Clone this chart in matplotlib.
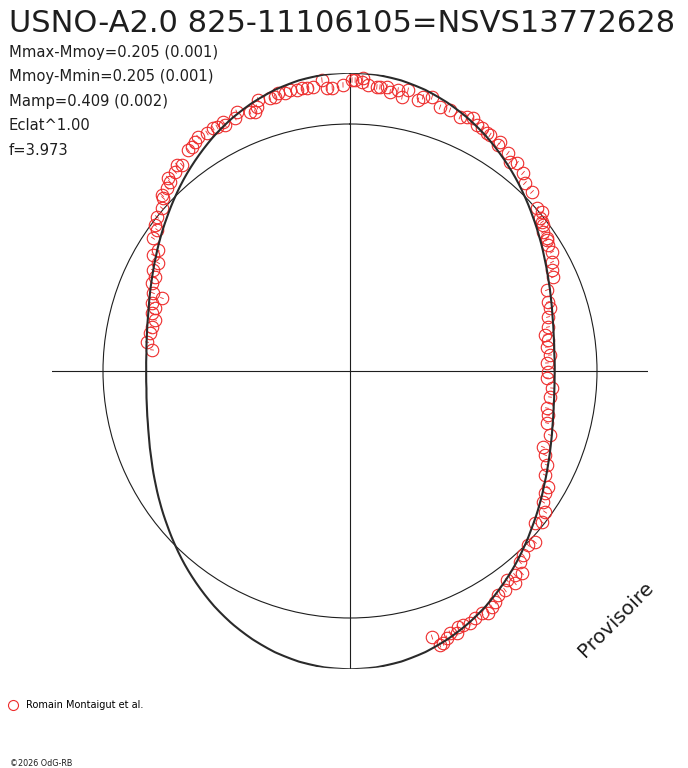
import numpy as np
import matplotlib.pyplot as plt

# texts
title = "USNO-A2.0 825-11106105=NSVS13772628"
info_lines = ["Mmax-Mmoy=0.205 (0.001)", "Mmoy-Mmin=0.205 (0.001)",
              "Mamp=0.409 (0.002)", "Eclat^1.00", "f=3.973"]
observer = "Romain Montaigut et al."
credit = "\u00a92026 OdG-RB"
stamp = "Provisoire"

# fitted light curve: phase (0..1, every 5 deg) and mag offset from the mean
fit_phase = np.linspace(0, 1, 73)
fit_dmag = [0.205, 0.202, 0.193, 0.178, 0.157, 0.132, 0.103, 0.070, 0.036, 0.000,
            -0.036, -0.070, -0.103, -0.132, -0.157, -0.178, -0.193, -0.202, -0.204,
            -0.202, -0.193, -0.178, -0.157, -0.132, -0.103, -0.070, -0.036, 0.000,
            0.036, 0.070, 0.103, 0.132, 0.157, 0.178, 0.193, 0.202, 0.205,
            0.202, 0.193, 0.178, 0.157, 0.132, 0.103, 0.070, 0.036, 0.000,
            -0.036, -0.070, -0.103, -0.133, -0.159, -0.181, -0.196, -0.206, -0.209,
            -0.206, -0.196, -0.181, -0.159, -0.133, -0.103, -0.070, -0.036, 0.000,
            0.036, 0.070, 0.103, 0.132, 0.157, 0.178, 0.193, 0.202, 0.205]

# observations (phase, mag offset)
obs_phase = [0.7669, 0.7725, 0.7800, 0.7847, 0.7908, 0.7953, 0.7997, 0.8025, 0.8089, 0.8100,
             0.8167, 0.8214, 0.8253, 0.8317, 0.8347, 0.8394, 0.8444, 0.8506, 0.8522, 0.8572,
             0.8636, 0.8689, 0.8697, 0.8750, 0.8789, 0.8797, 0.8853, 0.8889, 0.8911, 0.8994,
             0.9022, 0.9053, 0.9083, 0.9139, 0.9183, 0.9206, 0.9253, 0.9250, 0.9322, 0.9344,
             0.9414, 0.9442, 0.9461, 0.9481, 0.9547, 0.9575, 0.9597, 0.9633, 0.9667, 0.9703,
             0.9733, 0.9761, 0.9794, 0.9847, 0.9872, 0.9900, 0.9961,
             0.0011, 0.0028, 0.0067, 0.0100, 0.0150, 0.0069, 0.0167, 0.0206, 0.0227, 0.0269,
             0.0299, 0.0324, 0.0392, 0.0414, 0.0463, 0.0523, 0.0582, 0.0650, 0.0687, 0.0720,
             0.0758, 0.0792, 0.0831, 0.0852, 0.0922, 0.0925, 0.0998, 0.1040, 0.1077, 0.1143,
             0.1193, 0.1263, 0.1359, 0.1399, 0.1421, 0.1450, 0.1469, 0.1507, 0.1555, 0.1566,
             0.1598, 0.1653, 0.1713, 0.1762, 0.1810, 0.1879, 0.1966, 0.2014, 0.2076, 0.2152,
             0.2209, 0.2253, 0.2307, 0.2373, 0.2435, 0.2508, 0.2556, 0.2634, 0.2706, 0.2796,
             0.2848, 0.2911, 0.2993, 0.3097, 0.3147, 0.3209, 0.3280, 0.3344, 0.3390, 0.3449,
             0.3496, 0.3561, 0.3595, 0.3688, 0.3732, 0.3799, 0.3843, 0.3878, 0.3918, 0.3975,
             0.3948, 0.4020, 0.4071, 0.4108, 0.4138, 0.4175, 0.4205, 0.4254, 0.4293, 0.4334,
             0.4365, 0.4383, 0.4420, 0.4445, 0.4476, 0.4495, 0.4524]
obs_dmag = [-0.234, -0.202, -0.210, -0.214, -0.221, -0.196, -0.203, -0.179, -0.220, -0.166,
            -0.142, -0.143, -0.119, -0.124, -0.084, -0.092, -0.042, -0.036, -0.015, 0.000,
            0.008, 0.033, 0.045, 0.051, 0.060, 0.078, 0.077, 0.093, 0.080, 0.113,
            0.113, 0.122, 0.132, 0.127, 0.132, 0.128, 0.120, 0.134, 0.128, 0.146,
            0.127, 0.120, 0.136, 0.160, 0.153, 0.152, 0.164, 0.157, 0.164, 0.159,
            0.162, 0.160, 0.161, 0.183, 0.151, 0.150, 0.160,
            0.178, 0.178, 0.171, 0.161, 0.157, 0.187, 0.158, 0.161, 0.144, 0.156,
            0.132, 0.162, 0.134, 0.150, 0.159, 0.132, 0.134, 0.124, 0.135, 0.141,
            0.124, 0.122, 0.115, 0.114, 0.097, 0.112, 0.093, 0.069, 0.083, 0.068,
            0.042, 0.036, 0.005, 0.010, -0.014, -0.018, -0.022, -0.041, -0.042, -0.047,
            -0.055, -0.057, -0.080, -0.097, -0.108, -0.161, -0.178, -0.178, -0.201, -0.214,
            -0.238, -0.227, -0.238, -0.226, -0.245, -0.240, -0.245, -0.214, -0.220, -0.227,
            -0.214, -0.209, -0.176, -0.190, -0.164, -0.134, -0.121, -0.080, -0.077, -0.062,
            -0.028, -0.012, -0.034, 0.021, 0.008, 0.024, 0.038, 0.078, 0.066, 0.062,
            0.091, 0.090, 0.090, 0.108, 0.118, 0.131, 0.119, 0.124, 0.133, 0.128,
            0.128, 0.148, 0.138, 0.152, 0.165, 0.168, 0.130]
obs_err = 0.01  # typical mag error, drawn as the short dash inside each circle

W, H = 688, 768
red = '#ee2c2c'
ink = '#1e1e1e'


def fx(px):
    return px / W


def fy(py):
    return 1 - py / H


# radius = flux ratio to the mean
def to_r(dmag):
    return 10 ** (0.4 * np.asarray(dmag))


fig = plt.figure(figsize=(W / 100, H / 100), dpi=100)
ax = fig.add_axes([fx(52), fy(371 + 298), 596 / W, 596 / H], projection='polar')
ax.set_theta_zero_location('N')
ax.set_theta_direction(-1)

theta_obs = 2 * np.pi * np.asarray(obs_phase)
r_obs = to_r(obs_dmag)
ax.errorbar(theta_obs, r_obs, yerr=r_obs * (10 ** (0.4 * obs_err) - 1), fmt='none',
            ecolor=red, elinewidth=0.6, capsize=0, zorder=2)
obs_line, = ax.plot(theta_obs, r_obs, 'o', ms=9, mfc='none', mec=red, mew=0.8,
                    zorder=2, clip_on=False)
fit_line, = ax.plot(2 * np.pi * fit_phase, to_r(fit_dmag), color='#2a2a2a', lw=1.5,
                    zorder=3)
# let the polar transform bend the segments between the fit nodes
fit_line.get_path()._interpolation_steps = 10

ax.set_rlim(0, 298 / 247)
ax.set_rgrids([1.0], labels=[''])
ax.set_thetagrids([0, 90, 180, 270], labels=[''] * 4)
ax.grid(True, color=ink, lw=0.8)
ax.spines['polar'].set_visible(False)
ax.patch.set_visible(False)

fig.text(fx(9), fy(32), title, fontsize=22, color=ink, va='baseline')
for i, line in enumerate(info_lines):
    fig.text(fx(9), fy(57 + 24.5 * i), line, fontsize=10.6, color=ink, va='baseline')

fig.text(fx(616), fy(619), stamp, fontsize=14.5, color=ink, rotation=45,
         ha='center', va='center')

fig.legend([obs_line], [observer], loc='center left', bbox_to_anchor=(fx(8), fy(705)),
           frameon=False, fontsize=7, markerscale=0.8, handlelength=1.0,
           handletextpad=0.9, borderpad=0, borderaxespad=0)

fig.text(fx(10), fy(766), credit, fontsize=5.8, color=ink, va='baseline')

fig.savefig('out.png', dpi=100)
